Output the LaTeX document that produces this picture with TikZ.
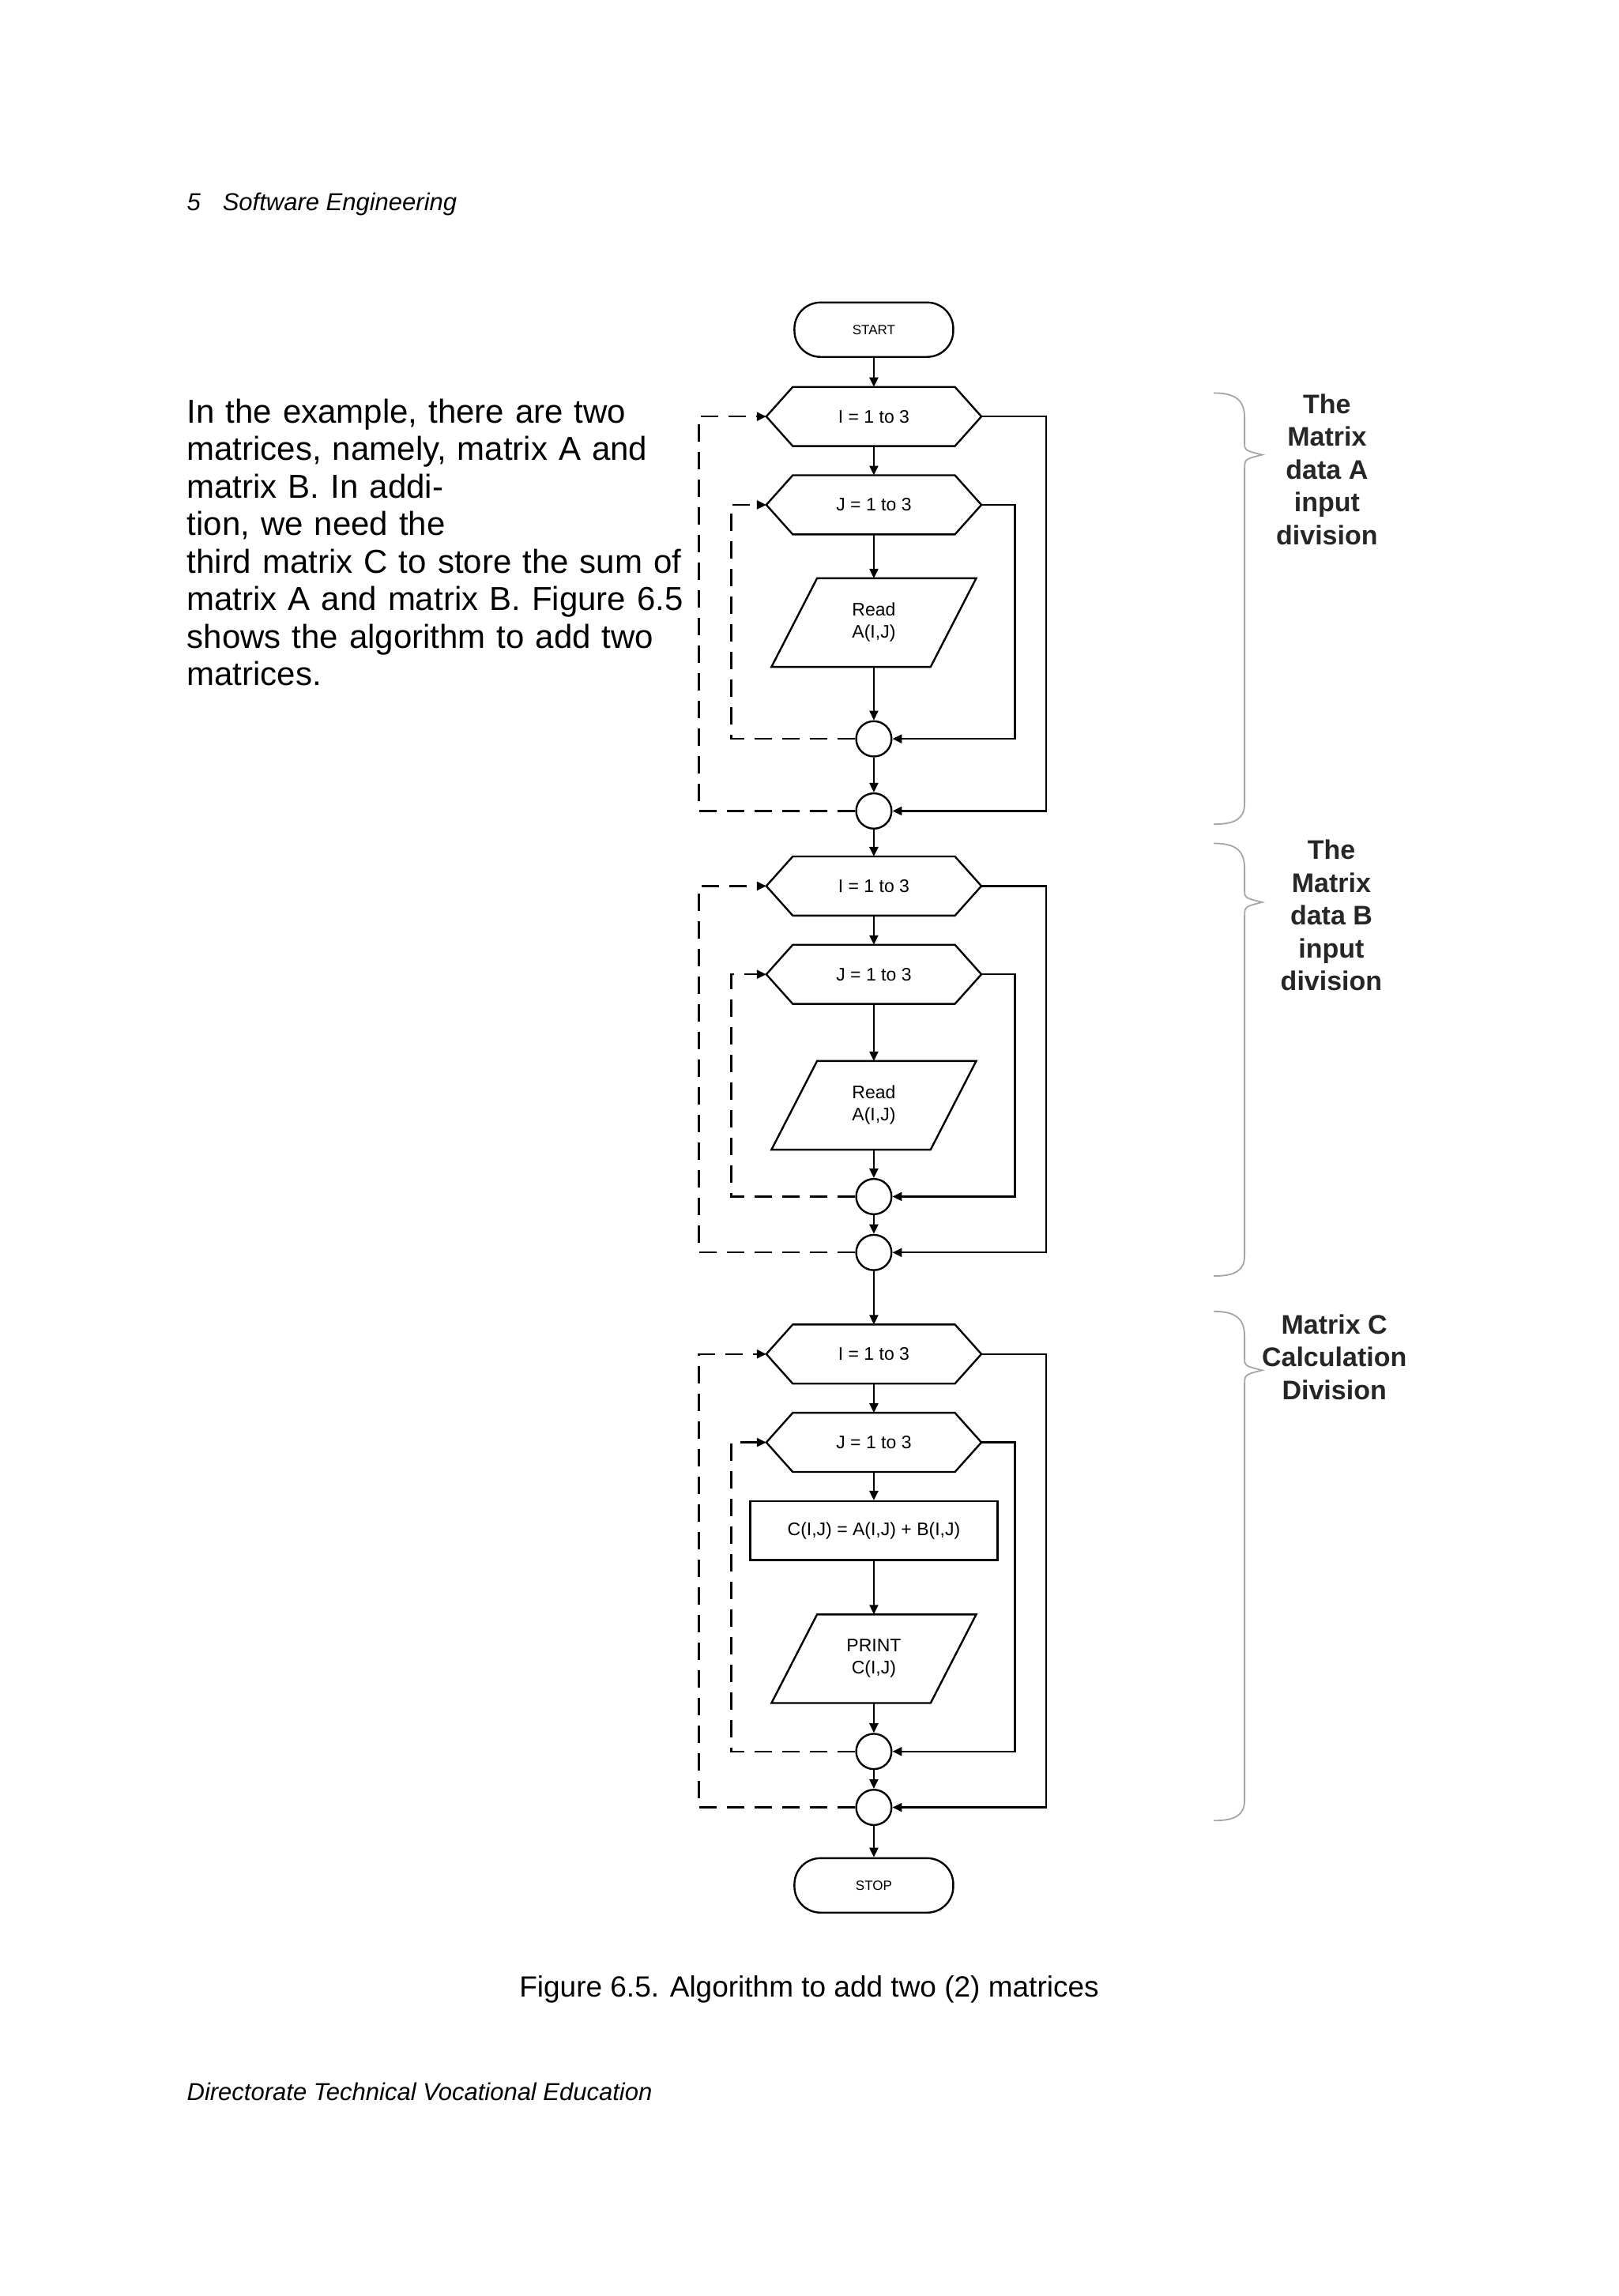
\documentclass[tikz,border=0pt]{standalone}
\usepackage{fontspec}
\setmainfont{Liberation Sans}
\usetikzlibrary{calc,arrows.meta}
\newcommand\flowfont{\fontsize{23}{28}\selectfont}
\begin{document}
\begin{tikzpicture}[x=1.8618pt,y=-1.8628pt,
  base/.style={inner sep=0pt, font=\flowfont, align=center},
  hexcore/.style={base, minimum width=204.8pt, minimum height=74.5pt},
  parcore/.style={base, minimum width=201pt, minimum height=111.8pt},
  proc/.style={base, draw, line width=2.4pt, minimum width=312.8pt, minimum height=74.5pt},
  junc/.style={base, draw, circle, line width=2.4pt, minimum size=44.7pt},
  term/.style={base, draw, line width=2.4pt, rounded corners=33pt, minimum width=201pt, minimum height=68.9pt, font=\fontsize{17}{20}\selectfont},
  ln/.style={line width=2.4pt, line join=miter},
  arr/.style={ln, -{Triangle[length=12pt,width=11pt]}},
  darr/.style={arr, dash pattern=on 22pt off 13pt},
  brace/.style={draw=black!35, line width=1.8pt},
  lab/.style={inner sep=0pt, align=center, font=\fontsize{34}{41.5}\selectfont\bfseries, text=black!85}]
\useasboundingbox (0,0) rectangle (1100,1560);
\fill[white] (0,0) rectangle (1100,1560);
% texts
\node[anchor=base west, inner sep=0pt, font=\fontsize{31}{36}\selectfont\itshape] (hdr) at (127,143) {5\hspace{0.9em}Software Engineering};
\node[anchor=north west, inner sep=0pt, text width=635pt, font=\fontsize{42}{47.5}\selectfont] (body) at (127,271)
 {In the example, there are two\linebreak matrices, namely, matrix A and\linebreak matrix B. In addition, we need the\linebreak third matrix C to store the sum of\linebreak matrix A and matrix B. Figure 6.5\linebreak shows the algorithm to add two\linebreak matrices.};
\node[anchor=base, inner sep=0pt, font=\fontsize{37}{44}\selectfont] (cap) at (550,1357) {Figure 6.5. Algorithm to add two (2) matrices};
\node[anchor=base west, inner sep=0pt, font=\fontsize{31}{36}\selectfont\itshape] (ftr) at (127,1427) {Directorate Technical Vocational Education};
% flowchart nodes
\node[term] (start) at (594,224) {START};
\node[hexcore] (i1) at (594,283) {I = 1 to 3};
\node[hexcore] (j1) at (594,343) {J = 1 to 3};
\node[parcore] (r1) at (594,423) {Read\\A(I,J)};
\node[junc] (c11) at (594,502) {};
\node[junc] (c12) at (594,551) {};
\node[hexcore] (i2) at (594,602) {I = 1 to 3};
\node[hexcore] (j2) at (594,662) {J = 1 to 3};
\node[parcore] (r2) at (594,751) {Read\\A(I,J)};
\node[junc] (c21) at (594,813) {};
\node[junc] (c22) at (594,851) {};
\node[hexcore] (i3) at (594,920) {I = 1 to 3};
\node[hexcore] (j3) at (594,980) {J = 1 to 3};
\node[proc] (calc) at (594,1040) {C(I,J) = A(I,J) + B(I,J)};
\node[parcore] (r3) at (594,1127) {PRINT\\C(I,J)};
\node[junc] (c31) at (594,1190) {};
\node[junc] (c32) at (594,1228) {};
\node[term] (stop) at (594,1281) {STOP};
% hexagons
\foreach \n in {i1,j1,i2,j2,i3,j3}{
  \coordinate (\n-L) at ($(\n.west)+(-18,0)$);
  \coordinate (\n-R) at ($(\n.east)+(18,0)$);
  \draw[ln] (\n-L) -- (\n.north west) -- (\n.north east) -- (\n-R) -- (\n.south east) -- (\n.south west) -- cycle;
}
% parallelograms
\foreach \n in {r1,r2,r3}{
  \draw[ln] ($(\n.north west)+(15.5,0)$) -- ($(\n.north east)+(15.5,0)$) -- ($(\n.south east)+(-15.5,0)$) -- ($(\n.south west)+(-15.5,0)$) -- cycle;
}
\coordinate (jx) at (690,0);
\coordinate (ix) at (711,0);
\coordinate (dj) at (497,0);
\coordinate (di) at (475,0);
% vertical connectors
\draw[arr] (start) -- (i1);
\draw[arr] (i1) -- (j1);
\draw[arr] (j1) -- (r1);
\draw[arr] (r1) -- (c11);
\draw[arr] (c11) -- (c12);
\draw[arr] (c12) -- (i2);
\draw[arr] (i2) -- (j2);
\draw[arr] (j2) -- (r2);
\draw[arr] (r2) -- (c21);
\draw[arr] (c21) -- (c22);
\draw[arr] (c22) -- (i3);
\draw[arr] (i3) -- (j3);
\draw[arr] (j3) -- (calc);
\draw[arr] (calc) -- (r3);
\draw[arr] (r3) -- (c31);
\draw[arr] (c31) -- (c32);
\draw[arr] (c32) -- (stop);
% loops
\foreach \b in {1,2,3}{
  \draw[arr] (j\b-R) -| (jx |- c\b1.east) -- (c\b1.east);
  \draw[arr] (i\b-R) -| (ix |- c\b2.east) -- (c\b2.east);
  \draw[darr] (c\b1.west) -| (dj |- j\b-L) -- (j\b-L);
  \draw[darr] (c\b2.west) -| (di |- i\b-L) -- (i\b-L);
}
% braces
\foreach \t/\m/\e in {267/309/560, 573/613/867, 891/931/1237}{
  \draw[brace] (825,\t) .. controls (840,\t) and (846,\t+5) .. (846,\t+17) -- (846,\m-8) .. controls (846,\m-3) .. (858,\m) .. controls (846,\m+3) .. (846,\m+10) -- (846,\e-14) .. controls (846,\e-4) and (840,\e) .. (825,\e);
}
% labels
\node[lab] (labA) at (902,319) {The\\Matrix\\data A\\input\\division};
\node[lab] (labB) at (905,622) {The\\Matrix\\data B\\input\\division};
\node[lab] (labC) at (907,922) {Matrix C\\Calculation\\Division};
\end{tikzpicture}
\end{document}
